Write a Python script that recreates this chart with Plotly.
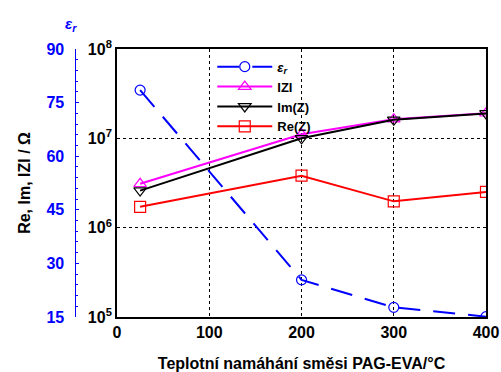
import plotly.graph_objects as go

temps = [25, 200, 300, 400]
eps_r = [78.5, 25.4, 17.7, 15.1]
abs_z = [3.1e6, 1.11e7, 1.64e7, 1.91e7]
im_z = [2.6e6, 1.0e7, 1.61e7, 1.9e7]
re_z = [1.71e6, 3.82e6, 1.97e6, 2.51e6]

x_ticks = [0, 100, 200, 300, 400]
y_tickvals = [1e5, 1e6, 1e7, 1e8]
y_ticktext = ["10<sup>5</sup>", "10<sup>6</sup>", "10<sup>7</sup>", "10<sup>8</sup>"]
eps_ticks = [15, 30, 45, 60, 75, 90]

FONT = "Liberation Sans, Arial, sans-serif"

fig = go.Figure()
fig.add_trace(go.Scatter(
    x=temps, y=eps_r, yaxis="y2", name="<b><i>ε<sub>r</sub></i></b>",
    mode="lines+markers",
    line=dict(color="#0000ff", width=2, dash="22px,13px"),
    marker=dict(symbol="circle-open", size=10, color="#0000ff", line=dict(width=1.2))))
fig.add_trace(go.Scatter(
    x=temps, y=abs_z, name="<b>IZI</b>", mode="lines+markers",
    line=dict(color="#ff00ff", width=2),
    marker=dict(symbol="triangle-up-open", size=11, color="#ff00ff", line=dict(width=1.2))))
fig.add_trace(go.Scatter(
    x=temps, y=im_z, name="<b>Im(Z)</b>", mode="lines+markers",
    line=dict(color="#000000", width=2),
    marker=dict(symbol="triangle-down-open", size=11, color="#000000", line=dict(width=1.2))))
fig.add_trace(go.Scatter(
    x=temps, y=re_z, name="<b>Re(Z)</b>", mode="lines+markers",
    line=dict(color="#ff0000", width=2),
    marker=dict(symbol="square-open", size=11, color="#ff0000", line=dict(width=1.2))))

fig.update_layout(
    width=501, height=372,
    margin=dict(l=0, r=15, t=49, b=55),
    plot_bgcolor="white", paper_bgcolor="white",
    font=dict(family=FONT, size=14, color="black"),
    xaxis=dict(
        domain=[114 / 486, 1.0],
        range=[0, 400], tickvals=x_ticks,
        ticktext=[f"<b>{v}</b>" for v in x_ticks],
        showline=True, linecolor="black", linewidth=2, mirror=True,
        showgrid=True, gridcolor="black", griddash="dot", gridwidth=1,
        ticks="", zeroline=False,
        title=dict(text="<b>Teplotní namáhání směsi PAG-EVA/°C</b>",
                   font=dict(size=16), standoff=20),
        tickfont=dict(size=16),
    ),
    yaxis=dict(
        type="log", range=[5, 8], tickvals=y_tickvals,
        ticktext=[f"<b>{t}</b>" for t in y_ticktext],
        showline=True, linecolor="black", linewidth=2, mirror=True,
        showgrid=True, gridcolor="black", griddash="dot", gridwidth=1,
        ticks="", zeroline=False, tickfont=dict(size=16),
    ),
    yaxis2=dict(
        overlaying="y", side="left", anchor="free", position=72 / 486,
        range=[15, 90], tickvals=eps_ticks,
        ticktext=[f"<b>{v}</b>" for v in eps_ticks],
        showline=True, linecolor="#0000ff", linewidth=1,
        ticks="inside", ticklen=3, tickcolor="#0000ff",
        minor=dict(ticks="inside", ticklen=2, dtick=3, tickcolor="#0000ff"),
        showgrid=False, zeroline=False, ticklabelstandoff=8,
        tickfont=dict(size=16, color="#0000ff"),
    ),
    legend=dict(
        x=210 / 486, y=0.99, xanchor="left", yanchor="top",
        bgcolor="rgba(0,0,0,0)", font=dict(size=13),
        itemwidth=55, tracegroupgap=0,
    ),
    showlegend=True,
)

fig.add_annotation(text="<b>Re, Im, IZI / Ω</b>", xref="paper", yref="paper",
                   x=20 / 486, y=0.5, textangle=-90, showarrow=False,
                   font=dict(size=16, color="black"), xanchor="center")
fig.add_annotation(text="<b><i>ε<sub>r</sub></i></b>", xref="paper", yref="paper",
                   x=68 / 486, y=1.0, yshift=36, showarrow=False,
                   font=dict(size=15, color="#0000ff"), xanchor="center")

fig.write_html("out.html")
